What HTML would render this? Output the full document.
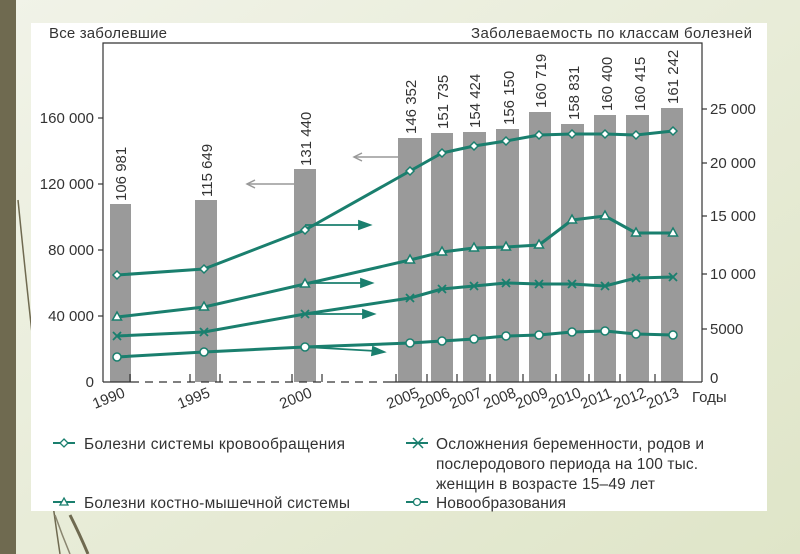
<!DOCTYPE html>
<html><head><meta charset="utf-8"><style>
html,body{margin:0;padding:0;width:800px;height:554px;overflow:hidden;background:#e8ecd6;}
svg{display:block}
text{font-family:"Liberation Sans","DejaVu Sans",sans-serif;fill:#333}
</style></head><body>
<svg width="800" height="554" viewBox="0 0 800 554">
<defs><linearGradient id="bg" x1="0" y1="0" x2="1" y2="1"><stop offset="0" stop-color="#f1f3e8"/><stop offset="1" stop-color="#dfe5c8"/></linearGradient></defs>
<rect width="800" height="554" fill="url(#bg)"/>
<rect x="0" y="0" width="16" height="554" fill="#6f6a50"/>
<path d="M18 200 Q40 420 60 554" stroke="#6f6a50" stroke-width="1.5" fill="none"/>
<path d="M70 515 Q80 535 88 554" stroke="#6f6a50" stroke-width="3" fill="none"/>
<path d="M55 515 Q62 535 70 554" stroke="#8a8670" stroke-width="1.5" fill="none"/>
<rect x="31" y="23" width="736" height="488" fill="#fff"/>
<text x="49" y="38" font-size="15" textLength="118">Все заболевшие</text>
<text x="471" y="38" font-size="15" textLength="281">Заболеваемость по классам болезней</text>
<!-- frame -->
<polyline points="103,382 103,43 702,43 702,382" fill="none" stroke="#333" stroke-width="1.2"/>
<g fill="#9a9a9a">
<rect x="110" y="204" width="21" height="178"/>
<rect x="195" y="200" width="22" height="182"/>
<rect x="294" y="169" width="22" height="213"/>
<rect x="398" y="138" width="24" height="244"/>
<rect x="431" y="133" width="22" height="249"/>
<rect x="463" y="132" width="23" height="250"/>
<rect x="496" y="129" width="23" height="253"/>
<rect x="529" y="112" width="22" height="270"/>
<rect x="561" y="124" width="23" height="258"/>
<rect x="594" y="115" width="22" height="267"/>
<rect x="626" y="115" width="23" height="267"/>
<rect x="661" y="108" width="22" height="274"/>
</g>
<!-- axes -->
<line x1="103" y1="382" x2="131" y2="382" stroke="#333" stroke-width="1.2"/>
<line x1="390" y1="382" x2="702" y2="382" stroke="#333" stroke-width="1.2"/>
<line x1="131" y1="382" x2="390" y2="382" stroke="#333" stroke-width="1.2" stroke-dasharray="8,6"/>
<g stroke="#333" stroke-width="1.2">
<line x1="98" y1="118" x2="103" y2="118"/><line x1="98" y1="184" x2="103" y2="184"/><line x1="98" y1="250" x2="103" y2="250"/><line x1="98" y1="316" x2="103" y2="316"/>
<line x1="702" y1="109" x2="707" y2="109"/><line x1="702" y1="163" x2="707" y2="163"/><line x1="702" y1="216" x2="707" y2="216"/><line x1="702" y1="274" x2="707" y2="274"/><line x1="702" y1="329" x2="707" y2="329"/>
<line x1="130" y1="374" x2="130" y2="382"/><line x1="190" y1="374" x2="190" y2="382"/><line x1="220" y1="374" x2="220" y2="382"/><line x1="292" y1="374" x2="292" y2="382"/><line x1="322" y1="374" x2="322" y2="382"/>
<line x1="396" y1="374" x2="396" y2="382"/><line x1="427" y1="374" x2="427" y2="382"/><line x1="457" y1="374" x2="457" y2="382"/><line x1="490" y1="374" x2="490" y2="382"/><line x1="523" y1="374" x2="523" y2="382"/><line x1="556" y1="374" x2="556" y2="382"/><line x1="589" y1="374" x2="589" y2="382"/><line x1="620" y1="374" x2="620" y2="382"/><line x1="655" y1="374" x2="655" y2="382"/>
</g>
<g font-size="15" text-anchor="end">
<text x="94" y="123">160 000</text><text x="94" y="189">120 000</text><text x="94" y="255">80 000</text><text x="94" y="321">40 000</text><text x="94" y="387">0</text>
</g>
<g font-size="15">
<text x="710" y="114">25 000</text><text x="710" y="168">20 000</text><text x="710" y="221">15 000</text><text x="710" y="279">10 000</text><text x="710" y="334">5000</text><text x="710" y="383">0</text>
<text x="692" y="402">Годы</text>
</g>
<g font-size="15">
<text transform="translate(126,201) rotate(-90)">106 981</text>
<text transform="translate(212,197) rotate(-90)">115 649</text>
<text transform="translate(311,166) rotate(-90)">131 440</text>
<text transform="translate(416,134) rotate(-90)">146 352</text>
<text transform="translate(448,129) rotate(-90)">151 735</text>
<text transform="translate(480,128) rotate(-90)">154 424</text>
<text transform="translate(514,125) rotate(-90)">156 150</text>
<text transform="translate(546,108) rotate(-90)">160 719</text>
<text transform="translate(579,120) rotate(-90)">158 831</text>
<text transform="translate(612,111) rotate(-90)">160 400</text>
<text transform="translate(645,111) rotate(-90)">160 415</text>
<text transform="translate(678,104) rotate(-90)">161 242</text>
</g>
<g font-size="15">
<text transform="translate(95,409) rotate(-22)">1990</text>
<text transform="translate(180,409) rotate(-22)">1995</text>
<text transform="translate(282,409) rotate(-22)">2000</text>
<text transform="translate(389,409) rotate(-22)">2005</text>
<text transform="translate(420,409) rotate(-22)">2006</text>
<text transform="translate(452,409) rotate(-22)">2007</text>
<text transform="translate(486,409) rotate(-22)">2008</text>
<text transform="translate(518,409) rotate(-22)">2009</text>
<text transform="translate(551,409) rotate(-22)">2010</text>
<text transform="translate(583,409) rotate(-22)">2011</text>
<text transform="translate(616,409) rotate(-22)">2012</text>
<text transform="translate(649,409) rotate(-22)">2013</text>
</g>
<!-- gray arrows -->
<g stroke="#999" stroke-width="1.5" fill="none">
<line x1="398" y1="157" x2="354" y2="157"/><polyline points="362,153 354,157 362,161"/>
<line x1="294" y1="184" x2="247" y2="184"/><polyline points="255,180 247,184 255,188"/>
</g>
<!-- teal arrows -->
<g stroke="#1a7f6e" stroke-width="1.8" fill="#1a7f6e">
<line x1="305" y1="225" x2="362" y2="225"/><polygon points="370,225 359,221 359,229"/>
<line x1="305" y1="283" x2="364" y2="283"/><polygon points="372,283 361,279 361,287"/>
<line x1="305" y1="314" x2="366" y2="314"/><polygon points="374,314 363,310 363,318"/>
<line x1="305" y1="347" x2="376" y2="351"/><polygon points="384,352 373,347 372,355"/>
</g>
<g stroke="#1a7f6e" stroke-width="3" fill="none" stroke-linejoin="round">
<polyline points="117,275 204,269 305,230 410,171 442,153 474,146 506,141 539,135 572,134 605,134 636,135 673,131"/>
<polyline points="117,317 204,307 305,284 410,260 442,252 474,248 506,247 539,245 572,220 605,216 636,233 673,233"/>
<polyline points="117,336 204,332 305,314 410,298 442,289 474,286 506,283 539,284 572,284 605,286 636,278 673,277"/>
<polyline points="117,357 204,352 305,347 410,343 442,341 474,339 506,336 539,335 572,332 605,331 636,334 673,335"/>
</g>
<!-- markers -->
<g fill="#fff" stroke="#1a7f6e" stroke-width="1.5">
<path d="M117,271 l4,4 l-4,4 l-4,-4z"/><path d="M204,265 l4,4 l-4,4 l-4,-4z"/><path d="M305,226 l4,4 l-4,4 l-4,-4z"/><path d="M410,167 l4,4 l-4,4 l-4,-4z"/><path d="M442,149 l4,4 l-4,4 l-4,-4z"/><path d="M474,142 l4,4 l-4,4 l-4,-4z"/><path d="M506,137 l4,4 l-4,4 l-4,-4z"/><path d="M539,131 l4,4 l-4,4 l-4,-4z"/><path d="M572,130 l4,4 l-4,4 l-4,-4z"/><path d="M605,130 l4,4 l-4,4 l-4,-4z"/><path d="M636,131 l4,4 l-4,4 l-4,-4z"/><path d="M673,127 l4,4 l-4,4 l-4,-4z"/>
<path d="M117,312 l4.5,8 h-9z"/><path d="M204,302 l4.5,8 h-9z"/><path d="M305,279 l4.5,8 h-9z"/><path d="M410,255 l4.5,8 h-9z"/><path d="M442,247 l4.5,8 h-9z"/><path d="M474,243 l4.5,8 h-9z"/><path d="M506,242 l4.5,8 h-9z"/><path d="M539,240 l4.5,8 h-9z"/><path d="M572,215 l4.5,8 h-9z"/><path d="M605,211 l4.5,8 h-9z"/><path d="M636,228 l4.5,8 h-9z"/><path d="M673,228 l4.5,8 h-9z"/>
<circle cx="117" cy="357" r="4"/><circle cx="204" cy="352" r="4"/><circle cx="305" cy="347" r="4"/><circle cx="410" cy="343" r="4"/><circle cx="442" cy="341" r="4"/><circle cx="474" cy="339" r="4"/><circle cx="506" cy="336" r="4"/><circle cx="539" cy="335" r="4"/><circle cx="572" cy="332" r="4"/><circle cx="605" cy="331" r="4"/><circle cx="636" cy="334" r="4"/><circle cx="673" cy="335" r="4"/>
</g>
<g stroke="#1a7f6e" stroke-width="1.8">
<path d="M113,332 l8,8 M121,332 l-8,8 M200,328 l8,8 M208,328 l-8,8 M301,310 l8,8 M309,310 l-8,8 M406,294 l8,8 M414,294 l-8,8 M438,285 l8,8 M446,285 l-8,8 M470,282 l8,8 M478,282 l-8,8 M502,279 l8,8 M510,279 l-8,8 M535,280 l8,8 M543,280 l-8,8 M568,280 l8,8 M576,280 l-8,8 M601,282 l8,8 M609,282 l-8,8 M632,274 l8,8 M640,274 l-8,8 M669,273 l8,8 M677,273 l-8,8"/>
</g>
<!-- legend -->
<g stroke="#1a7f6e" stroke-width="2" fill="#fff">
<line x1="53" y1="443" x2="75" y2="443"/><path d="M64,439 l4,4 l-4,4 l-4,-4z" stroke-width="1.3"/>
<line x1="53" y1="502" x2="75" y2="502"/><path d="M64,498 l4,7 h-8z" stroke-width="1.3"/>
<line x1="406" y1="443" x2="428" y2="443"/><path d="M413,438 l10,10 M423,438 l-10,10" stroke-width="1.5"/>
<line x1="406" y1="502" x2="428" y2="502"/><circle cx="417" cy="502" r="3.5" stroke-width="1.3"/>
</g>
<g font-size="15.5">
<text x="84" y="449" textLength="261">Болезни системы кровообращения</text>
<text x="84" y="508" textLength="266">Болезни костно-мышечной системы</text>
<text x="436" y="449" textLength="268">Осложнения беременности, родов и</text>
<text x="436" y="469" textLength="262">послеродового периода на 100 тыс.</text>
<text x="436" y="489" textLength="219">женщин в возрасте 15–49 лет</text>
<text x="436" y="508" textLength="130">Новообразования</text>
</g>
</svg>
</body></html>
